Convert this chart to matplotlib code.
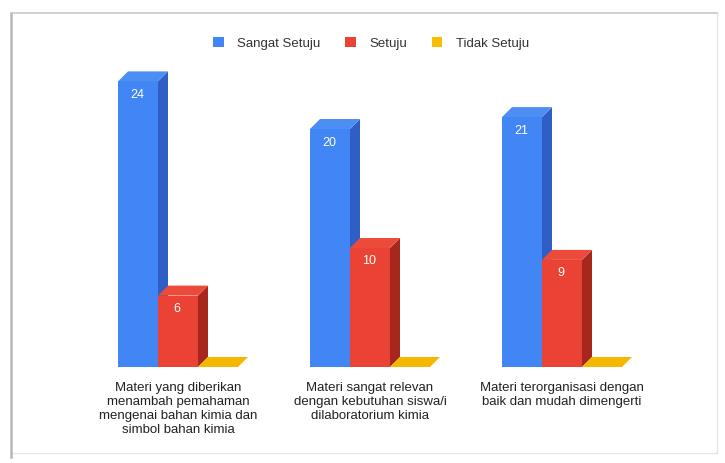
import matplotlib
matplotlib.use('Agg')
import matplotlib.pyplot as plt
from matplotlib.patches import Polygon, Patch
from matplotlib.lines import Line2D
import numpy as np

plt.rcParams['font.family'] = ['Liberation Sans', 'DejaVu Sans']

categories = ["Materi yang diberikan\nmenambah pemahaman\nmengenai bahan kimia dan\nsimbol bahan kimia",
              "Materi sangat relevan\ndengan kebutuhan siswa/i\ndilaboratorium kimia",
              "Materi terorganisasi dengan\nbaik dan mudah dimengerti"]
series_names = ["Sangat Setuju", "Setuju", "Tidak Setuju"]
sangat_setuju = [24, 20, 21]
setuju = [6, 10, 9]
tidak_setuju = [0, 0, 0]

front_colors = ["#4285F4", "#EA4335", "#FBBC04"]
side_colors = ["#2f5fc4", "#a8271c", "#d39b00"]
top_colors = ["#4d8ef5", "#ec4b3c", "#F5B800"]

W, H = 725, 464
fig = plt.figure(figsize=(W / 100, H / 100), dpi=100)
fig.patch.set_facecolor('white')

def fx(p):
    return p / W
def fy(p):
    return 1 - p / H
fig.lines.append(Line2D([fx(717), fx(717)], [fy(14), fy(454)], transform=fig.transFigure,
                        color='#e6e6e6', lw=1.0))
fig.lines.append(Line2D([fx(11), fx(717)], [fy(454), fy(454)], transform=fig.transFigure,
                        color='#e6e6e6', lw=1.0))
fig.lines.append(Line2D([fx(11), fx(11)], [fy(14), fy(458)], transform=fig.transFigure,
                        color='#b8b8b8', lw=1.8))
fig.lines.append(Line2D([fx(11), fx(717)], [fy(14), fy(14)], transform=fig.transFigure,
                        color='#c8c8c8', lw=1.2))

base_px = 368
ax = fig.add_axes([82 / W, (H - base_px) / H, 576 / W, 357 / H])
ax.set_xlim(-0.5, 2.5)
ax.set_ylim(0, 30)
ax.axis('off')

x = np.arange(len(categories))
w = 40 / 192
offs = [-w, 0, w]
dx = 10 / 192
dy = 10 / 11.9

all_vals = [sangat_setuju, setuju, tidak_setuju]
for j, vals in enumerate(all_vals):
    bars = ax.bar(x + offs[j], vals, width=w, color=front_colors[j],
                  zorder=3 + 3 * j, linewidth=0)
    for b, v in zip(bars, vals):
        x0 = b.get_x()
        x1 = x0 + b.get_width()
        h = b.get_height()
        if h > 0:
            ax.add_patch(Polygon([(x1, 0), (x1 + dx, dy), (x1 + dx, h + dy), (x1, h)],
                                 closed=True, facecolor=side_colors[j], lw=0,
                                 zorder=3 + 3 * j + 1))
        ax.add_patch(Polygon([(x0, h), (x1, h), (x1 + dx, h + dy), (x0 + dx, h + dy)],
                             closed=True, facecolor=top_colors[j], lw=0,
                             zorder=3 + 3 * j + 2))
        if v > 0:
            ax.annotate(str(v), (x0 + w / 2, h), xytext=(-0.5, -9),
                        textcoords='offset points', ha='center', va='center',
                        color='white', fontsize=9, zorder=20)

for xi, lab in zip(x, categories):
    ax.annotate(lab, (xi, 0), xytext=(0, -10), textcoords='offset points',
                ha='center', va='top', fontsize=9.5, color='#222222',
                linespacing=1.22, annotation_clip=False)

handles = [Patch(facecolor=c, edgecolor='none') for c in front_colors]
fig.legend(handles, series_names, loc='center', bbox_to_anchor=(371 / W, 1 - 44 / H),
           ncol=3, frameon=False, fontsize=9.5, handlelength=0.8, handleheight=0.8,
           columnspacing=1.9, handletextpad=1.0, labelcolor='#333333')

fig.savefig('out.png', dpi=100, facecolor='white')
